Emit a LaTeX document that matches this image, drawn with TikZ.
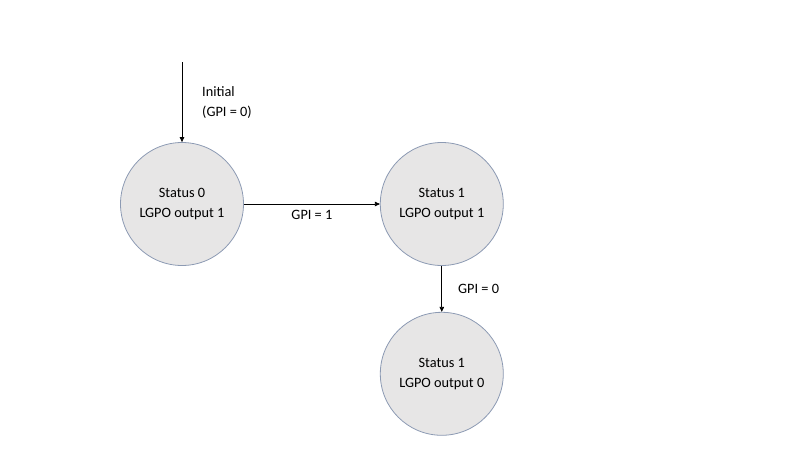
\documentclass[tikz,border=0pt]{standalone}
\usepackage{fontspec}
\setmainfont{Carlito}
\usetikzlibrary{arrows.meta,positioning}
\definecolor{stfill}{HTML}{E7E6E6}
\definecolor{stedge}{HTML}{8C9AB3}

\begin{document}
\begin{tikzpicture}[x=1pt,y=-1pt,
node distance=46pt and 136pt,
state/.style={circle,draw=stedge,fill=stfill,line width=0.8pt,align=center,
font=\fontsize{14.3}{20.5}\selectfont,minimum size=123pt,inner sep=0pt},
lbl/.style={align=left,font=\fontsize{14.3}{20.5}\selectfont,inner sep=0pt},
trans/.style={-{Triangle[length=5pt,width=4.5pt]},line width=0.7pt}
]
\useasboundingbox (0,0) rectangle (800,450);
\node[state] (s0) at (182,204) {Status 0 \\ LGPO output 1};
\node[state,right=of s0] (s1) {Status 1 \\ LGPO output 1};
\node[state,below=of s1] (s2) {Status 1 \\ LGPO output 0};
\coordinate (init) at (182,62);

\draw[trans] (init) -- (s0);
\draw[trans] (s0) -- node[lbl,below=6pt] (g1) {GPI = 1} (s1);
\draw[trans] (s1) -- node[lbl,right=16pt] (g0) {GPI = 0} (s2);
\node[lbl,anchor=west] (initlbl) at (202,102.5) {Initial \\ (GPI = 0)};
\end{tikzpicture}
\end{document}
